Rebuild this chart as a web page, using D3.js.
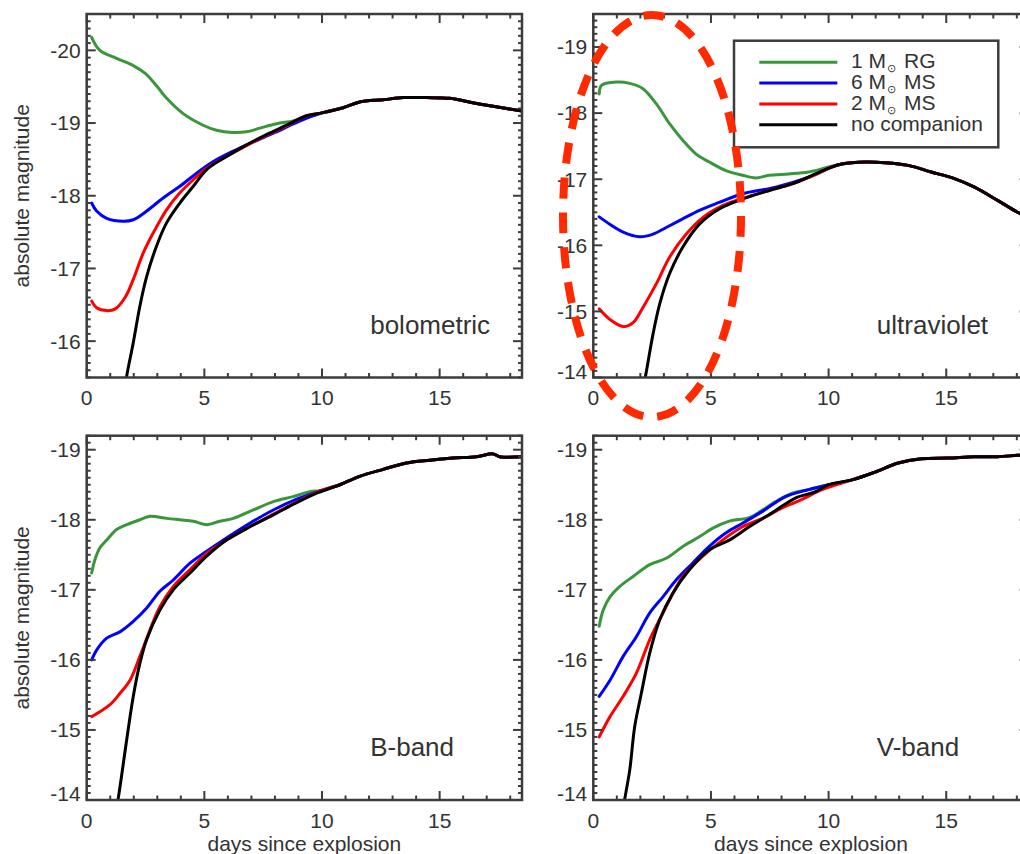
<!DOCTYPE html>
<html><head><meta charset="utf-8">
<script src="https://cdn.jsdelivr.net/npm/d3@7"></script>
<style>
html,body{margin:0;padding:0;background:#fff;}
svg{display:block;}
text{font-family:"Liberation Sans",Arial,Helvetica,sans-serif;fill:#333;}
</style></head>
<body>
<svg id="chart" width="1020" height="854"></svg>
<script>
// ---------- DATA (days since explosion, absolute magnitude) ----------
const seriesNames = ["1 M", "6 M", "2 M", "no companion"];
const legendSuffix = ["RG", "MS", "MS", ""];
const seriesColors = ["#3a963a", "#0000ff", "#ff0000", "#000000"];
const panelLabels = ["bolometric", "ultraviolet", "B-band", "V-band"];
const xTickValues = [0, 5, 10, 15];

// bolometric
const bolTail  = [[10.0,-19.14],[10.9,-19.21],[11.6,-19.29],[12.6,-19.32],[13.45,-19.35],[14.44,-19.35],[15.43,-19.34],[16.4,-19.28],[17.27,-19.23],[18.6,-19.16]];
const bolGreen = [[0.21,-20.18],[0.56,-20.0],[1.27,-19.89],[1.98,-19.79],[2.5,-19.68],[3.0,-19.5],[3.4,-19.34],[4.1,-19.13],[4.95,-18.97],[5.52,-18.90],[6.2,-18.87],[6.79,-18.88],[7.36,-18.93],[8.07,-18.99],[8.77,-19.03],[9.48,-19.09]];
const bolBlue  = [[0.21,-17.9],[0.42,-17.79],[0.85,-17.69],[1.56,-17.65],[1.98,-17.67],[2.55,-17.79],[3.25,-17.97],[3.96,-18.13],[4.67,-18.31],[5.38,-18.47],[6.2,-18.61],[7.08,-18.74],[8.0,-18.87],[9.0,-19.02]];
const bolRed   = [[0.21,-16.55],[0.42,-16.46],[0.85,-16.42],[1.2,-16.44],[1.63,-16.6],[1.98,-16.85],[2.4,-17.21],[2.83,-17.49],[3.4,-17.81],[3.96,-18.04],[4.53,-18.22],[5.1,-18.38],[5.94,-18.54],[6.79,-18.69],[7.64,-18.83],[8.49,-18.96],[9.34,-19.1]];
const bolBlack = [[1.5,-15.1],[1.7,-15.52],[1.98,-15.98],[2.26,-16.48],[2.55,-16.89],[2.97,-17.31],[3.4,-17.63],[3.96,-17.9],[4.53,-18.13],[5.1,-18.36],[5.94,-18.54],[6.79,-18.70],[7.64,-18.84],[8.49,-18.97],[9.34,-19.1]];

// ultraviolet
const uvTail  = [[10.1,-17.18],[10.56,-17.23],[11.55,-17.26],[12.4,-17.25],[13.38,-17.21],[14.36,-17.11],[15.35,-17.01],[16.2,-16.88],[17.18,-16.68],[18.03,-16.5],[18.6,-16.4]];
const uvGreen = [[0.25,-18.29],[0.35,-18.42],[0.99,-18.47],[1.55,-18.45],[2.11,-18.37],[2.68,-18.14],[3.24,-17.84],[3.8,-17.59],[4.37,-17.38],[4.93,-17.26],[5.64,-17.13],[6.34,-17.06],[6.9,-17.02],[7.47,-17.06],[8.31,-17.08],[9.15,-17.11],[9.86,-17.17]];
const uvBlue  = [[0.25,-16.43],[0.7,-16.32],[1.27,-16.2],[1.97,-16.13],[2.54,-16.17],[3.1,-16.27],[3.8,-16.4],[4.51,-16.53],[5.35,-16.65],[6.34,-16.78],[7.75,-16.88],[9.15,-17.03]];
const uvRed   = [[0.25,-15.04],[0.7,-14.88],[1.27,-14.77],[1.69,-14.83],[2.11,-15.06],[2.68,-15.42],[3.24,-15.82],[3.95,-16.17],[4.65,-16.42],[5.49,-16.6],[6.34,-16.71],[7.47,-16.83],[8.45,-16.93],[9.44,-17.07]];
const uvBlack = [[2.0,-13.6],[2.26,-14.1],[2.54,-14.66],[2.82,-15.11],[3.24,-15.57],[3.8,-15.97],[4.51,-16.32],[5.35,-16.55],[6.34,-16.7],[7.47,-16.83],[8.45,-16.93],[9.44,-17.08]];

// B-band
const bTail  = [[9.98,-18.42],[10.76,-18.5],[11.6,-18.62],[12.6,-18.72],[13.59,-18.81],[14.58,-18.85],[15.57,-18.88],[16.56,-18.9],[17.27,-18.94],[17.55,-18.9],[18.6,-18.9]];
const bGreen = [[0.21,-17.24],[0.35,-17.43],[0.56,-17.6],[0.85,-17.71],[1.27,-17.86],[1.7,-17.93],[2.26,-18.0],[2.69,-18.05],[3.4,-18.02],[3.96,-18.0],[4.53,-17.98],[5.1,-17.93],[5.66,-17.98],[6.23,-18.02],[7.08,-18.14],[7.93,-18.26],[8.77,-18.33],[9.48,-18.4]];
const bBlue  = [[0.21,-16.0],[0.42,-16.14],[0.85,-16.31],[1.41,-16.4],[1.98,-16.55],[2.55,-16.74],[3.11,-16.98],[3.68,-17.14],[4.39,-17.38],[5.1,-17.55],[5.94,-17.74],[6.93,-17.95],[7.93,-18.14],[8.9,-18.29]];
const bRed   = [[0.21,-15.19],[0.56,-15.26],[0.99,-15.36],[1.41,-15.52],[1.84,-15.71],[2.26,-16.05],[2.69,-16.43],[3.11,-16.76],[3.68,-17.05],[4.39,-17.29],[5.1,-17.52],[5.94,-17.71],[6.93,-17.9],[7.93,-18.08],[8.9,-18.25]];
const bBlack = [[1.1,-13.55],[1.34,-14.02],[1.7,-14.86],[1.98,-15.48],[2.26,-15.95],[2.55,-16.29],[3.11,-16.71],[3.68,-17.0],[4.39,-17.24],[5.1,-17.48],[5.94,-17.71],[6.93,-17.9],[7.93,-18.07],[8.9,-18.24],[9.77,-18.38]];

// V-band
const vTail  = [[9.15,-18.43],[10.0,-18.5],[10.99,-18.57],[11.97,-18.68],[12.96,-18.81],[13.94,-18.87],[15.07,-18.88],[16.2,-18.9],[17.18,-18.9],[18.03,-18.92],[18.6,-18.93]];
const vGreen = [[0.25,-16.48],[0.42,-16.71],[0.71,-16.9],[1.13,-17.05],[1.69,-17.19],[2.4,-17.36],[3.1,-17.45],[3.81,-17.62],[4.52,-17.76],[5.08,-17.88],[5.78,-17.98],[6.63,-18.03],[7.19,-18.14],[7.75,-18.26],[8.45,-18.38]];
const vBlue  = [[0.25,-15.48],[0.71,-15.71],[1.27,-16.05],[1.83,-16.33],[2.4,-16.67],[2.96,-16.9],[3.52,-17.14],[4.22,-17.38],[4.93,-17.62],[5.63,-17.81],[6.34,-17.95],[7.19,-18.12],[8.17,-18.33]];
const vRed   = [[0.25,-14.9],[0.71,-15.19],[1.27,-15.48],[1.83,-15.81],[2.4,-16.29],[2.96,-16.67],[3.81,-17.19],[4.65,-17.48],[5.49,-17.71],[6.34,-17.9],[7.19,-18.02],[8.03,-18.17],[8.87,-18.29],[9.72,-18.43]];
const vBlack = [[1.2,-13.7],[1.34,-14.02],[1.55,-14.43],[1.76,-15.05],[2.04,-15.52],[2.4,-16.1],[2.82,-16.57],[3.38,-16.95],[4.09,-17.29],[4.93,-17.57],[5.78,-17.71],[6.63,-17.9],[7.6,-18.1],[8.59,-18.31],[9.44,-18.4]];

const yDomains = [[-15.5,-20.5],[-14,-19.5],[-14,-19.2],[-14,-19.2]];
const xDomain = [0, 18.5];

// ---------- LAYOUT ----------
const svg = d3.select("#chart");
const ink = "#3c3c3c";
const panels = [
  {left:86.7, top:14,    w:435.3, h:363.5, tail:bolTail, s:[bolGreen,bolBlue,bolRed,bolBlack], yTitle:true,  xTitle:false},
  {left:593.3,top:14,    w:435.3, h:363.5, tail:uvTail,  s:[uvGreen,uvBlue,uvRed,uvBlack],     yTitle:false, xTitle:false},
  {left:86.7, top:435.7, w:435.3, h:364.3, tail:bTail,   s:[bGreen,bBlue,bRed,bBlack],         yTitle:true,  xTitle:true},
  {left:593.3,top:435.7, w:435.3, h:364.3, tail:vTail,   s:[vGreen,vBlue,vRed,vBlack],         yTitle:false, xTitle:true}
];

panels.forEach((p, pi) => {
  const x = d3.scaleLinear().domain(xDomain).range([p.left, p.left + p.w]);
  const y = d3.scaleLinear().domain(yDomains[pi]).range([p.top + p.h, p.top]);
  const bottom = p.top + p.h;
  const g = svg.append("g");
  const clipId = "clip" + pi;
  svg.append("defs").append("clipPath").attr("id", clipId)
    .append("rect").attr("x", p.left).attr("y", p.top).attr("width", p.w).attr("height", p.h);

  // curves
  const line = d3.line().x(d => x(d[0])).y(d => y(d[1])).curve(d3.curveCatmullRom.alpha(0.5));
  const cg = g.append("g").attr("clip-path", `url(#${clipId})`);
  p.s.forEach((arr, si) => {
    const last = arr[arr.length - 1][0];
    const full = arr.concat(p.tail.filter(d => d[0] > last + 0.3));
    cg.append("path").datum(full)
      .attr("d", line).attr("fill", "none")
      .attr("stroke", seriesColors[si]).attr("stroke-width", 3)
      .attr("stroke-linejoin", "round").attr("stroke-linecap", "round");
  });

  // frame
  g.append("rect").attr("x", p.left).attr("y", p.top).attr("width", p.w).attr("height", p.h)
    .attr("fill", "none").attr("stroke", ink).attr("stroke-width", 2.5);

  // x ticks (major every 5, minor every 1), bottom and top
  const xMinor = d3.range(0, 19, 1);
  const tk = g.append("g").attr("stroke", ink).attr("stroke-width", 2);
  xMinor.forEach(v => {
    const len = (v % 5 === 0) ? 9 : 4.5;
    const xx = x(v);
    tk.append("line").attr("x1", xx).attr("x2", xx).attr("y1", bottom).attr("y2", bottom - len);
    tk.append("line").attr("x1", xx).attr("x2", xx).attr("y1", p.top).attr("y2", p.top + len);
  });
  // y ticks (major every 1, minor every 0.1), left and right
  const [ya, yb] = yDomains[pi];
  const lo = Math.min(ya, yb), hi = Math.max(ya, yb);
  const yMinor = d3.range(Math.ceil(lo * 10), Math.floor(hi * 10) + 1).map(k => k / 10);
  yMinor.forEach(v => {
    const major = Math.abs(v - Math.round(v)) < 1e-6;
    const len = major ? 9 : 4;
    const yy = y(v);
    tk.append("line").attr("x1", p.left).attr("x2", p.left + len).attr("y1", yy).attr("y2", yy);
    tk.append("line").attr("x1", p.left + p.w).attr("x2", p.left + p.w - len).attr("y1", yy).attr("y2", yy);
  });

  // y tick labels
  const yMajor = d3.range(Math.ceil(lo), Math.floor(hi) + 1);
  yMajor.forEach(v => {
    const yy = Math.min(y(v), bottom - 6);
    g.append("text").attr("x", p.left - 6).attr("y", yy).attr("dy", "0.35em")
      .attr("text-anchor", "end").attr("font-size", 21).text(String(v));
  });
  // x tick labels
  xTickValues.forEach(v => {
    g.append("text").attr("x", x(v)).attr("y", bottom + 27.5)
      .attr("text-anchor", "middle").attr("font-size", 21).text(String(v));
  });

  // panel label
  g.append("text").attr("x", p.left + 283.5).attr("y", bottom - 44)
    .attr("font-size", 26).text(panelLabels[pi]);

  if (p.yTitle) {
    const cy = p.top + p.h / 2;
    g.append("text").attr("transform", `translate(28.5,${cy}) rotate(-90)`)
      .attr("text-anchor", "middle").attr("font-size", 21).text("absolute magnitude");
  }
  if (p.xTitle) {
    g.append("text").attr("x", p.left + p.w / 2).attr("y", 851)
      .attr("text-anchor", "middle").attr("font-size", 21).text("days since explosion");
  }
});

// ---------- LEGEND ----------
const lg = svg.append("g");
lg.append("rect").attr("x", 734).attr("y", 40.7).attr("width", 264.3).attr("height", 106.6)
  .attr("fill", "#fff").attr("stroke", ink).attr("stroke-width", 2.5);
const legendNums = ["1", "6", "2", null];
seriesNames.forEach((name, i) => {
  const ly = 62.3 + i * 20.8;
  lg.append("line").attr("x1", 759.3).attr("x2", 837.3).attr("y1", ly).attr("y2", ly)
    .attr("stroke", seriesColors[i]).attr("stroke-width", 3);
  const t = lg.append("text").attr("x", 851).attr("y", ly + 6).attr("font-size", 21);
  if (legendNums[i] === null) {
    t.text(name);
  } else {
    t.append("tspan").text(name);
    t.append("tspan").attr("font-size", 11).attr("dy", 4).attr("dx", 1).text("\u2299");
    t.append("tspan").attr("dy", -4).attr("dx", 8).text(legendSuffix[i]);
  }
});

// ---------- RED DASHED ELLIPSE ----------
svg.append("ellipse").attr("cx", 652).attr("cy", 216).attr("rx", 89).attr("ry", 201)
  .attr("fill", "none").attr("stroke", "#ff2a00").attr("stroke-width", 8)
  .attr("stroke-dasharray", "21,14");
</script>
</body></html>
